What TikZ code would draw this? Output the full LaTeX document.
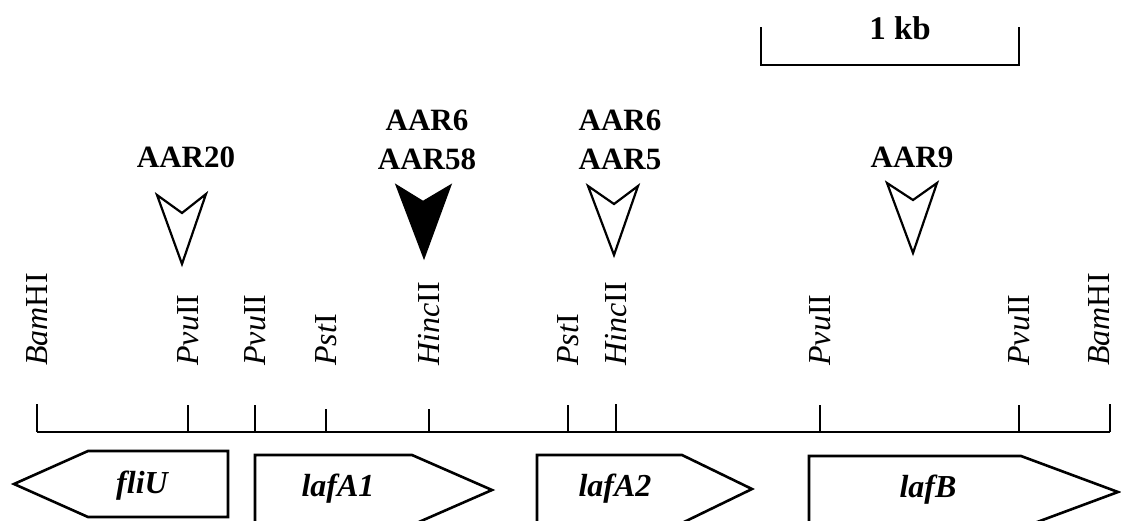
\documentclass[tikz,border=0pt]{standalone}
\usepackage{fontspec}
\setmainfont{Liberation Serif}
\begin{document}
\begin{tikzpicture}[x=1pt,y=-1pt, line width=2.6pt, line join=miter,
  site/.style={rotate=90, anchor=west, inner sep=0pt, font=\fontsize{32}{36}\selectfont},
  lbl/.style={font=\fontsize{31}{36}\selectfont\bfseries, align=center, inner sep=0pt},
  gene/.style={font=\fontsize{32}{36}\selectfont\bfseries\itshape, inner sep=0pt},
  genebox/.style={draw, line width=2.6pt, fill=white},
  ins/.style={draw, line width=2.2pt, fill=white},
  insfill/.style={draw, line width=2.2pt, fill=black}]

\useasboundingbox (0,0) rectangle (1121,520);
\clip (0,0) rectangle (1121,520);

% scale bar
\coordinate (sbl) at (761,27);
\coordinate (sbr) at (1019,27);
\draw (sbl) -- (761,65) -- (1019,65) -- (sbr);
\node[lbl, anchor=base, font=\fontsize{33}{36}\selectfont\bfseries] (kb) at (900,39) {1 kb};

% map line
\coordinate (L) at (37,432);
\coordinate (R) at (1110,432);
\draw (L) -- (R);

\foreach \n/\x/\t/\lab in {
  s1/37/404/{\textit{Bam}HI},
  s2/188/405/{\textit{Pvu}II},
  s3/255/405/{\textit{Pvu}II},
  s4/326/409/{\textit{Pst}I},
  s5/429/409/{\textit{Hinc}II},
  s6/568/405/{\textit{Pst}I},
  s7/616/404/{\textit{Hinc}II},
  s8/820/405/{\textit{Pvu}II},
  s9/1019/405/{\textit{Pvu}II}} {
  \coordinate (\n) at (\x,432);
  \coordinate (\n t) at (\x,\t);
  \draw (\n) -- (\n t);
  \node[site] (\n l) at (\x,367) {\lab};
}
\coordinate (s10) at (1110,432);
\coordinate (s10t) at (1110,404);
\draw (s10) -- (s10t);
\node[site, anchor=south west] (s10l) at (1111,367) {\textit{Bam}HI};

% insertion markers
\draw[ins] (157,195) -- (182,213) -- (206,194) -- (182,264) -- cycle;
\draw[insfill] (397,186) -- (423,202) -- (450,186) -- (424,257) -- cycle;
\draw[ins] (588,186) -- (614,204) -- (638,186) -- (614,255) -- cycle;
\draw[ins] (887,183) -- (913,200) -- (937,183) -- (913,253) -- cycle;

\node[lbl] (a20) at (186,157) {AAR20};
\node[lbl] (a6a) at (427,120) {AAR6};
\node[lbl] (a58) at (427,159) {AAR58};
\node[lbl] (a6b) at (620,120) {AAR6};
\node[lbl] (a5) at (620,159) {AAR5};
\node[lbl] (a9) at (912,157) {AAR9};

% genes
\draw[genebox] (14,484) -- (88,451) -- (228,451) -- (228,517) -- (88,517) -- cycle;
\node[gene] (fliU) at (142,486) {fliU};
\draw[genebox] (255,455) -- (412,455) -- (492,490) -- (412,525) -- (255,525) -- cycle;
\node[gene] (lafA1) at (338,489) {lafA1};
\draw[genebox] (537,455) -- (682,455) -- (752,489) -- (682,523) -- (537,523) -- cycle;
\node[gene] (lafA2) at (615,489) {lafA2};
\draw[genebox] (809,456) -- (1021,456) -- (1118,492) -- (1021,528) -- (809,528) -- cycle;
\node[gene] (lafB) at (928,490) {lafB};
\end{tikzpicture}
\end{document}
